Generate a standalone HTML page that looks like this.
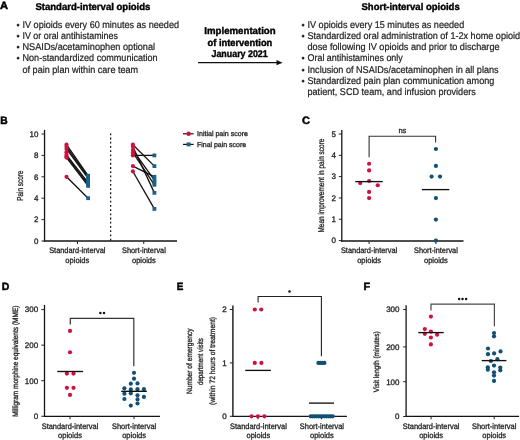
<!DOCTYPE html>
<html><head><meta charset="utf-8"><style>
html,body{margin:0;padding:0;background:#fff;width:520px;height:440px;overflow:hidden}
svg{display:block;font-family:"Liberation Sans", sans-serif;will-change:transform;text-rendering:geometricPrecision}
</style></head><body>
<svg width="520" height="440" viewBox="0 0 520 440">
<rect width="520" height="440" fill="#fff"/>
<text x="0" y="9.45" font-size="10.6" font-weight="bold" textLength="8.0" lengthAdjust="spacingAndGlyphs" fill="#000" stroke="#000" stroke-width="0.5">A</text>
<text x="35.4" y="9.85" font-size="9.8" font-weight="bold" textLength="115.0" lengthAdjust="spacingAndGlyphs" fill="#000" stroke="#000" stroke-width="0.4">Standard-interval opioids</text>
<text x="16.6" y="27.5" font-size="9" fill="#1e1e1e" stroke="#1e1e1e" stroke-width="0.22">•</text>
<text x="22.5" y="27.5" font-size="9.8" textLength="156.5" lengthAdjust="spacingAndGlyphs" fill="#1e1e1e" stroke="#1e1e1e" stroke-width="0.22">IV opioids every 60 minutes as needed</text>
<text x="16.6" y="38.77" font-size="9" fill="#1e1e1e" stroke="#1e1e1e" stroke-width="0.22">•</text>
<text x="22.5" y="38.77" font-size="9.8" textLength="95.34" lengthAdjust="spacingAndGlyphs" fill="#1e1e1e" stroke="#1e1e1e" stroke-width="0.22">IV or oral antihistamines</text>
<text x="16.6" y="50.04" font-size="9" fill="#1e1e1e" stroke="#1e1e1e" stroke-width="0.22">•</text>
<text x="22.5" y="50.04" font-size="9.8" textLength="132.59" lengthAdjust="spacingAndGlyphs" fill="#1e1e1e" stroke="#1e1e1e" stroke-width="0.22">NSAIDs/acetaminophen optional</text>
<text x="16.6" y="61.31" font-size="9" fill="#1e1e1e" stroke="#1e1e1e" stroke-width="0.22">•</text>
<text x="22.5" y="61.31" font-size="9.8" textLength="135.17" lengthAdjust="spacingAndGlyphs" fill="#1e1e1e" stroke="#1e1e1e" stroke-width="0.22">Non-standardized communication</text>
<text x="22.5" y="72.58" font-size="9.8" textLength="115.67" lengthAdjust="spacingAndGlyphs" fill="#1e1e1e" stroke="#1e1e1e" stroke-width="0.22">of pain plan within care team</text>
<text x="240" y="34.3" font-size="9.8" text-anchor="middle" font-weight="bold" textLength="71.3" lengthAdjust="spacingAndGlyphs" fill="#000" stroke="#000" stroke-width="0.4">Implementation</text>
<text x="239.9" y="45.5" font-size="9.8" text-anchor="middle" font-weight="bold" textLength="64.8" lengthAdjust="spacingAndGlyphs" fill="#000" stroke="#000" stroke-width="0.4">of intervention</text>
<text x="239.6" y="56.5" font-size="9.8" text-anchor="middle" font-weight="bold" textLength="56.2" lengthAdjust="spacingAndGlyphs" fill="#000" stroke="#000" stroke-width="0.4">January 2021</text>
<line x1="198" y1="62.6" x2="278" y2="62.6" stroke="#111" stroke-width="1.3"/>
<path d="M276.5 60.1 L282.6 62.7 L276.5 65.3 Z" fill="#111"/>
<text x="361.5" y="9.85" font-size="9.8" font-weight="bold" textLength="98.2" lengthAdjust="spacingAndGlyphs" fill="#000" stroke="#000" stroke-width="0.4">Short-interval opioids</text>
<text x="301.6" y="27.5" font-size="9" fill="#1e1e1e" stroke="#1e1e1e" stroke-width="0.22">•</text>
<text x="307.5" y="27.5" font-size="9.8" textLength="156.7" lengthAdjust="spacingAndGlyphs" fill="#1e1e1e" stroke="#1e1e1e" stroke-width="0.22">IV opioids every 15 minutes as needed</text>
<text x="301.6" y="38.77" font-size="9" fill="#1e1e1e" stroke="#1e1e1e" stroke-width="0.22">•</text>
<text x="307.5" y="38.77" font-size="9.8" textLength="212.62" lengthAdjust="spacingAndGlyphs" fill="#1e1e1e" stroke="#1e1e1e" stroke-width="0.22">Standardized oral administration of 1-2x home opioid</text>
<text x="307.5" y="50.04" font-size="9.8" textLength="192.12" lengthAdjust="spacingAndGlyphs" fill="#1e1e1e" stroke="#1e1e1e" stroke-width="0.22">dose following IV opioids and prior to discharge</text>
<text x="301.6" y="61.31" font-size="9" fill="#1e1e1e" stroke="#1e1e1e" stroke-width="0.22">•</text>
<text x="307.5" y="61.31" font-size="9.8" textLength="95.25" lengthAdjust="spacingAndGlyphs" fill="#1e1e1e" stroke="#1e1e1e" stroke-width="0.22">Oral antihistamines only</text>
<text x="301.6" y="72.58" font-size="9" fill="#1e1e1e" stroke="#1e1e1e" stroke-width="0.22">•</text>
<text x="307.5" y="72.58" font-size="9.8" textLength="191.11" lengthAdjust="spacingAndGlyphs" fill="#1e1e1e" stroke="#1e1e1e" stroke-width="0.22">Inclusion of NSAIDs/acetaminophen in all plans</text>
<text x="301.6" y="83.85" font-size="9" fill="#1e1e1e" stroke="#1e1e1e" stroke-width="0.22">•</text>
<text x="307.5" y="83.85" font-size="9.8" textLength="186.82" lengthAdjust="spacingAndGlyphs" fill="#1e1e1e" stroke="#1e1e1e" stroke-width="0.22">Standardized pain plan communication among</text>
<text x="307.5" y="95.12" font-size="9.8" textLength="168.29" lengthAdjust="spacingAndGlyphs" fill="#1e1e1e" stroke="#1e1e1e" stroke-width="0.22">patient, SCD team, and infusion providers</text>
<text x="0.2" y="123.8" font-size="10.6" font-weight="bold" textLength="7.4" lengthAdjust="spacingAndGlyphs" fill="#000" stroke="#000" stroke-width="0.5">B</text>
<line x1="44.55" y1="130" x2="44.55" y2="241.7" stroke="#141414" stroke-width="1.3"/>
<line x1="43.9" y1="240.95" x2="177" y2="240.95" stroke="#141414" stroke-width="1.5"/>
<line x1="41.5" y1="241.0" x2="44.5" y2="241.0" stroke="#222" stroke-width="1.0"/>
<text x="38.4" y="243.8" font-size="8.0" text-anchor="end" textLength="4.45" lengthAdjust="spacingAndGlyphs" fill="#1e1e1e" stroke="#1e1e1e" stroke-width="0.3">0</text>
<line x1="41.5" y1="219.6" x2="44.5" y2="219.6" stroke="#222" stroke-width="1.0"/>
<text x="38.4" y="222.4" font-size="8.0" text-anchor="end" textLength="4.45" lengthAdjust="spacingAndGlyphs" fill="#1e1e1e" stroke="#1e1e1e" stroke-width="0.3">2</text>
<line x1="41.5" y1="198.2" x2="44.5" y2="198.2" stroke="#222" stroke-width="1.0"/>
<text x="38.4" y="201.0" font-size="8.0" text-anchor="end" textLength="4.45" lengthAdjust="spacingAndGlyphs" fill="#1e1e1e" stroke="#1e1e1e" stroke-width="0.3">4</text>
<line x1="41.5" y1="176.8" x2="44.5" y2="176.8" stroke="#222" stroke-width="1.0"/>
<text x="38.4" y="179.60000000000002" font-size="8.0" text-anchor="end" textLength="4.45" lengthAdjust="spacingAndGlyphs" fill="#1e1e1e" stroke="#1e1e1e" stroke-width="0.3">6</text>
<line x1="41.5" y1="155.4" x2="44.5" y2="155.4" stroke="#222" stroke-width="1.0"/>
<text x="38.4" y="158.20000000000002" font-size="8.0" text-anchor="end" textLength="4.45" lengthAdjust="spacingAndGlyphs" fill="#1e1e1e" stroke="#1e1e1e" stroke-width="0.3">8</text>
<line x1="41.5" y1="134.0" x2="44.5" y2="134.0" stroke="#222" stroke-width="1.0"/>
<text x="38.4" y="136.8" font-size="8.0" text-anchor="end" textLength="8.9" lengthAdjust="spacingAndGlyphs" fill="#1e1e1e" stroke="#1e1e1e" stroke-width="0.3">10</text>
<line x1="77.5" y1="241" x2="77.5" y2="244" stroke="#222" stroke-width="1.0"/>
<line x1="143.75" y1="241" x2="143.75" y2="244" stroke="#222" stroke-width="1.0"/>
<line x1="110.65" y1="133.4" x2="110.65" y2="241" stroke="#111" stroke-width="1.25" stroke-dasharray="1.8 2.41"/>
<line x1="66.5" y1="144.7" x2="88.1" y2="175.73000000000002" stroke="#111" stroke-width="1.3"/>
<line x1="66.5" y1="146.84" x2="88.1" y2="176.8" stroke="#111" stroke-width="1.3"/>
<line x1="66.5" y1="148.98000000000002" x2="88.1" y2="178.405" stroke="#111" stroke-width="1.3"/>
<line x1="66.5" y1="154.865" x2="88.1" y2="182.685" stroke="#111" stroke-width="1.3"/>
<line x1="66.5" y1="156.47" x2="88.1" y2="184.29000000000002" stroke="#111" stroke-width="1.3"/>
<line x1="66.5" y1="157.54000000000002" x2="88.1" y2="185.895" stroke="#111" stroke-width="1.3"/>
<line x1="66.5" y1="176.8" x2="88.1" y2="198.2" stroke="#111" stroke-width="1.3"/>
<line x1="132.9" y1="144.7" x2="154.4" y2="166.10000000000002" stroke="#111" stroke-width="1.3"/>
<line x1="132.9" y1="146.84" x2="154.4" y2="192.85" stroke="#111" stroke-width="1.3"/>
<line x1="132.9" y1="150.05" x2="154.4" y2="180.01" stroke="#111" stroke-width="1.3"/>
<line x1="132.9" y1="152.72500000000002" x2="154.4" y2="184.825" stroke="#111" stroke-width="1.3"/>
<line x1="132.9" y1="155.4" x2="154.4" y2="155.4" stroke="#111" stroke-width="1.3"/>
<line x1="132.9" y1="166.10000000000002" x2="154.4" y2="176.8" stroke="#111" stroke-width="1.3"/>
<line x1="132.9" y1="171.45" x2="154.4" y2="208.9" stroke="#111" stroke-width="1.3"/>
<circle cx="66.5" cy="152.19" r="2.1" fill="#d0103f"/>
<rect x="86.20" y="178.65" width="3.8" height="3.8" fill="#1b6189"/>
<rect x="152.50" y="180.57" width="3.8" height="3.8" fill="#1b6189"/>
<circle cx="66.5" cy="144.7" r="2.1" fill="#d0103f"/>
<rect x="86.20" y="173.83" width="3.8" height="3.8" fill="#1b6189"/>
<circle cx="66.5" cy="146.84" r="2.1" fill="#d0103f"/>
<rect x="86.20" y="174.90" width="3.8" height="3.8" fill="#1b6189"/>
<circle cx="66.5" cy="148.98000000000002" r="2.1" fill="#d0103f"/>
<rect x="86.20" y="176.50" width="3.8" height="3.8" fill="#1b6189"/>
<circle cx="66.5" cy="154.865" r="2.1" fill="#d0103f"/>
<rect x="86.20" y="180.78" width="3.8" height="3.8" fill="#1b6189"/>
<circle cx="66.5" cy="156.47" r="2.1" fill="#d0103f"/>
<rect x="86.20" y="182.39" width="3.8" height="3.8" fill="#1b6189"/>
<circle cx="66.5" cy="157.54000000000002" r="2.1" fill="#d0103f"/>
<rect x="86.20" y="184.00" width="3.8" height="3.8" fill="#1b6189"/>
<circle cx="66.5" cy="176.8" r="2.1" fill="#d0103f"/>
<rect x="86.20" y="196.30" width="3.8" height="3.8" fill="#1b6189"/>
<circle cx="132.9" cy="144.7" r="2.1" fill="#d0103f"/>
<rect x="152.50" y="164.20" width="3.8" height="3.8" fill="#1b6189"/>
<circle cx="132.9" cy="146.84" r="2.1" fill="#d0103f"/>
<rect x="152.50" y="190.95" width="3.8" height="3.8" fill="#1b6189"/>
<circle cx="132.9" cy="150.05" r="2.1" fill="#d0103f"/>
<rect x="152.50" y="178.11" width="3.8" height="3.8" fill="#1b6189"/>
<circle cx="132.9" cy="152.72500000000002" r="2.1" fill="#d0103f"/>
<rect x="152.50" y="182.92" width="3.8" height="3.8" fill="#1b6189"/>
<circle cx="132.9" cy="155.4" r="2.1" fill="#d0103f"/>
<rect x="152.50" y="153.50" width="3.8" height="3.8" fill="#1b6189"/>
<circle cx="132.9" cy="166.10000000000002" r="2.1" fill="#d0103f"/>
<rect x="152.50" y="174.90" width="3.8" height="3.8" fill="#1b6189"/>
<circle cx="132.9" cy="171.45" r="2.1" fill="#d0103f"/>
<rect x="152.50" y="207.00" width="3.8" height="3.8" fill="#1b6189"/>
<line x1="183" y1="133.8" x2="193.6" y2="133.8" stroke="#111" stroke-width="1.2"/>
<circle cx="188.6" cy="133.8" r="2.2" fill="#d0103f"/>
<line x1="183" y1="144.4" x2="193.6" y2="144.4" stroke="#111" stroke-width="1.2"/>
<rect x="186.65" y="142.45" width="3.9" height="3.9" fill="#1b6189"/>
<text x="197" y="136.4" font-size="7.2" textLength="51" lengthAdjust="spacingAndGlyphs" fill="#1e1e1e" stroke="#1e1e1e" stroke-width="0.3">Initial pain score</text>
<text x="197" y="147.0" font-size="7.2" textLength="49.1" lengthAdjust="spacingAndGlyphs" fill="#1e1e1e" stroke="#1e1e1e" stroke-width="0.3">Final pain score</text>
<text transform="translate(23.3,185.7) rotate(-90)" x="0" y="0" font-size="8.6" text-anchor="middle" textLength="30.2" lengthAdjust="spacingAndGlyphs" fill="#1e1e1e" stroke="#1e1e1e" stroke-width="0.3">Pain score</text>
<text x="77.3" y="253.2" font-size="8.0" text-anchor="middle" textLength="56.3" lengthAdjust="spacingAndGlyphs" fill="#1e1e1e" stroke="#1e1e1e" stroke-width="0.3">Standard-interval</text>
<text x="77.3" y="262.8" font-size="8.0" text-anchor="middle" textLength="23.9" lengthAdjust="spacingAndGlyphs" fill="#1e1e1e" stroke="#1e1e1e" stroke-width="0.3">opioids</text>
<text x="143.9" y="253.2" font-size="8.0" text-anchor="middle" textLength="43.8" lengthAdjust="spacingAndGlyphs" fill="#1e1e1e" stroke="#1e1e1e" stroke-width="0.3">Short-interval</text>
<text x="143.9" y="262.8" font-size="8.0" text-anchor="middle" textLength="23.9" lengthAdjust="spacingAndGlyphs" fill="#1e1e1e" stroke="#1e1e1e" stroke-width="0.3">opioids</text>
<text x="302" y="123.8" font-size="10.6" font-weight="bold" textLength="8.0" lengthAdjust="spacingAndGlyphs" fill="#000" stroke="#000" stroke-width="0.5">C</text>
<line x1="341.8" y1="130" x2="341.8" y2="241.7" stroke="#141414" stroke-width="1.3"/>
<line x1="341.15" y1="240.95" x2="463.5" y2="240.95" stroke="#141414" stroke-width="1.5"/>
<line x1="338.8" y1="240.6" x2="341.8" y2="240.6" stroke="#222" stroke-width="1.0"/>
<text x="336.0" y="243.4" font-size="8.0" text-anchor="end" textLength="4.45" lengthAdjust="spacingAndGlyphs" fill="#1e1e1e" stroke="#1e1e1e" stroke-width="0.3">0</text>
<line x1="338.8" y1="219.28" x2="341.8" y2="219.28" stroke="#222" stroke-width="1.0"/>
<text x="336.0" y="222.08" font-size="8.0" text-anchor="end" textLength="4.45" lengthAdjust="spacingAndGlyphs" fill="#1e1e1e" stroke="#1e1e1e" stroke-width="0.3">1</text>
<line x1="338.8" y1="197.95999999999998" x2="341.8" y2="197.95999999999998" stroke="#222" stroke-width="1.0"/>
<text x="336.0" y="200.76" font-size="8.0" text-anchor="end" textLength="4.45" lengthAdjust="spacingAndGlyphs" fill="#1e1e1e" stroke="#1e1e1e" stroke-width="0.3">2</text>
<line x1="338.8" y1="176.64" x2="341.8" y2="176.64" stroke="#222" stroke-width="1.0"/>
<text x="336.0" y="179.44" font-size="8.0" text-anchor="end" textLength="4.45" lengthAdjust="spacingAndGlyphs" fill="#1e1e1e" stroke="#1e1e1e" stroke-width="0.3">3</text>
<line x1="338.8" y1="155.32" x2="341.8" y2="155.32" stroke="#222" stroke-width="1.0"/>
<text x="336.0" y="158.12" font-size="8.0" text-anchor="end" textLength="4.45" lengthAdjust="spacingAndGlyphs" fill="#1e1e1e" stroke="#1e1e1e" stroke-width="0.3">4</text>
<line x1="338.8" y1="134.0" x2="341.8" y2="134.0" stroke="#222" stroke-width="1.0"/>
<text x="336.0" y="136.8" font-size="8.0" text-anchor="end" textLength="4.45" lengthAdjust="spacingAndGlyphs" fill="#1e1e1e" stroke="#1e1e1e" stroke-width="0.3">5</text>
<line x1="369.1" y1="241" x2="369.1" y2="244" stroke="#222" stroke-width="1.0"/>
<line x1="435.9" y1="241" x2="435.9" y2="244" stroke="#222" stroke-width="1.0"/>
<path d="M369.1 157.2 V136.25 H435.6 V142.5" fill="none" stroke="#333" stroke-width="1.1"/>
<text x="402.4" y="133.4" font-size="7.6" text-anchor="middle" fill="#1e1e1e" stroke="#1e1e1e" stroke-width="0.3">ns</text>
<circle cx="369.1" cy="163.75" r="2.1" fill="#d0103f"/>
<circle cx="369.1" cy="170.4" r="2.1" fill="#d0103f"/>
<circle cx="369.1" cy="181" r="2.1" fill="#d0103f"/>
<circle cx="360.25" cy="183.1" r="2.1" fill="#d0103f"/>
<circle cx="377.75" cy="185.25" r="2.1" fill="#d0103f"/>
<circle cx="369.1" cy="191.9" r="2.1" fill="#d0103f"/>
<circle cx="369.1" cy="198.1" r="2.1" fill="#d0103f"/>
<circle cx="435.9" cy="149" r="2.1" fill="#114f74"/>
<circle cx="435.9" cy="165.9" r="2.1" fill="#114f74"/>
<circle cx="431.6" cy="176.6" r="2.1" fill="#114f74"/>
<circle cx="440" cy="176.6" r="2.1" fill="#114f74"/>
<circle cx="435.9" cy="198.1" r="2.1" fill="#114f74"/>
<circle cx="435.9" cy="219.6" r="2.1" fill="#114f74"/>
<circle cx="435.9" cy="240.6" r="2.1" fill="#114f74"/>
<line x1="355.25" y1="181.6" x2="382.75" y2="181.6" stroke="#111" stroke-width="1.35"/>
<line x1="421.9" y1="189.6" x2="449.4" y2="189.6" stroke="#111" stroke-width="1.35"/>
<text transform="translate(324.4,185.6) rotate(-90)" x="0" y="0" font-size="8.4" text-anchor="middle" textLength="94.0" lengthAdjust="spacingAndGlyphs" fill="#1e1e1e" stroke="#1e1e1e" stroke-width="0.3">Mean improvement in pain score</text>
<text x="369.1" y="253.0" font-size="8.0" text-anchor="middle" textLength="56.3" lengthAdjust="spacingAndGlyphs" fill="#1e1e1e" stroke="#1e1e1e" stroke-width="0.3">Standard-interval</text>
<text x="369.1" y="262.5" font-size="8.0" text-anchor="middle" textLength="23.9" lengthAdjust="spacingAndGlyphs" fill="#1e1e1e" stroke="#1e1e1e" stroke-width="0.3">opioids</text>
<text x="435.9" y="253.0" font-size="8.0" text-anchor="middle" textLength="43.8" lengthAdjust="spacingAndGlyphs" fill="#1e1e1e" stroke="#1e1e1e" stroke-width="0.3">Short-interval</text>
<text x="435.9" y="262.5" font-size="8.0" text-anchor="middle" textLength="23.9" lengthAdjust="spacingAndGlyphs" fill="#1e1e1e" stroke="#1e1e1e" stroke-width="0.3">opioids</text>
<text x="1.8" y="290.2" font-size="10.6" font-weight="bold" textLength="7.6" lengthAdjust="spacingAndGlyphs" fill="#000" stroke="#000" stroke-width="0.5">D</text>
<line x1="44.5" y1="305" x2="44.5" y2="417.0" stroke="#141414" stroke-width="1.3"/>
<line x1="43.85" y1="416.45" x2="160" y2="416.45" stroke="#141414" stroke-width="1.25"/>
<line x1="41.3" y1="416.25" x2="44.4" y2="416.25" stroke="#222" stroke-width="1.0"/>
<text x="38.2" y="419.05" font-size="8.0" text-anchor="end" textLength="4.45" lengthAdjust="spacingAndGlyphs" fill="#1e1e1e" stroke="#1e1e1e" stroke-width="0.3">0</text>
<line x1="41.3" y1="380.7" x2="44.4" y2="380.7" stroke="#222" stroke-width="1.0"/>
<text x="38.2" y="383.5" font-size="8.0" text-anchor="end" textLength="13.35" lengthAdjust="spacingAndGlyphs" fill="#1e1e1e" stroke="#1e1e1e" stroke-width="0.3">100</text>
<line x1="41.3" y1="345.15" x2="44.4" y2="345.15" stroke="#222" stroke-width="1.0"/>
<text x="38.2" y="347.95" font-size="8.0" text-anchor="end" textLength="13.35" lengthAdjust="spacingAndGlyphs" fill="#1e1e1e" stroke="#1e1e1e" stroke-width="0.3">200</text>
<line x1="41.3" y1="309.6" x2="44.4" y2="309.6" stroke="#222" stroke-width="1.0"/>
<text x="38.2" y="312.40000000000003" font-size="8.0" text-anchor="end" textLength="13.35" lengthAdjust="spacingAndGlyphs" fill="#1e1e1e" stroke="#1e1e1e" stroke-width="0.3">300</text>
<line x1="70" y1="416.25" x2="70" y2="419.25" stroke="#222" stroke-width="1.0"/>
<line x1="134" y1="416.25" x2="134" y2="419.25" stroke="#222" stroke-width="1.0"/>
<path d="M70.3 324.6 V318.3 H133.8 V366.3" fill="none" stroke="#333" stroke-width="1.2"/>
<circle cx="100.35" cy="313.0" r="1.25" fill="#111"/>
<circle cx="104.0" cy="313.0" r="1.25" fill="#111"/>
<circle cx="70" cy="330.93" r="2.1" fill="#d0103f"/>
<circle cx="70" cy="352.26" r="2.1" fill="#d0103f"/>
<circle cx="66.9" cy="373.59000000000003" r="2.1" fill="#d0103f"/>
<circle cx="73.5" cy="373.59000000000003" r="2.1" fill="#d0103f"/>
<circle cx="66.9" cy="387.81" r="2.1" fill="#d0103f"/>
<circle cx="73.5" cy="387.81" r="2.1" fill="#d0103f"/>
<circle cx="70" cy="394.92" r="2.1" fill="#d0103f"/>
<circle cx="134.0" cy="372.8" r="2.1" fill="#114f74"/>
<circle cx="134.0" cy="378.7" r="2.1" fill="#114f74"/>
<circle cx="130.8" cy="383.7" r="2.1" fill="#114f74"/>
<circle cx="137.5" cy="383.4" r="2.1" fill="#114f74"/>
<circle cx="124.4" cy="388.3" r="2.1" fill="#114f74"/>
<circle cx="130.8" cy="389.4" r="2.1" fill="#114f74"/>
<circle cx="137.5" cy="389.2" r="2.1" fill="#114f74"/>
<circle cx="143.9" cy="389.2" r="2.1" fill="#114f74"/>
<circle cx="124.4" cy="393.7" r="2.1" fill="#114f74"/>
<circle cx="130.8" cy="393.3" r="2.1" fill="#114f74"/>
<circle cx="137.5" cy="395.3" r="2.1" fill="#114f74"/>
<circle cx="143.9" cy="396.9" r="2.1" fill="#114f74"/>
<circle cx="124.4" cy="399.0" r="2.1" fill="#114f74"/>
<circle cx="137.5" cy="399.4" r="2.1" fill="#114f74"/>
<circle cx="137.5" cy="403.5" r="2.1" fill="#114f74"/>
<circle cx="130.8" cy="405.6" r="2.1" fill="#114f74"/>
<line x1="57.25" y1="371.5" x2="83.1" y2="371.5" stroke="#111" stroke-width="1.35"/>
<line x1="121.2" y1="391.3" x2="146.9" y2="391.3" stroke="#111" stroke-width="1.35"/>
<text transform="translate(18.0,361.2) rotate(-90)" x="0" y="0" font-size="7.8" text-anchor="middle" textLength="111.3" lengthAdjust="spacingAndGlyphs" fill="#1e1e1e" stroke="#1e1e1e" stroke-width="0.3">Milligram morphine equivalents (MME)</text>
<text x="70" y="428.5" font-size="8.0" text-anchor="middle" textLength="56.6" lengthAdjust="spacingAndGlyphs" fill="#1e1e1e" stroke="#1e1e1e" stroke-width="0.3">Standard-interval</text>
<text x="70" y="437.5" font-size="8.0" text-anchor="middle" textLength="23.9" lengthAdjust="spacingAndGlyphs" fill="#1e1e1e" stroke="#1e1e1e" stroke-width="0.3">opioids</text>
<text x="134.1" y="428.5" font-size="8.0" text-anchor="middle" textLength="44.2" lengthAdjust="spacingAndGlyphs" fill="#1e1e1e" stroke="#1e1e1e" stroke-width="0.3">Short-interval</text>
<text x="134.1" y="437.5" font-size="8.0" text-anchor="middle" textLength="23.9" lengthAdjust="spacingAndGlyphs" fill="#1e1e1e" stroke="#1e1e1e" stroke-width="0.3">opioids</text>
<text x="176.8" y="290.1" font-size="10.6" font-weight="bold" textLength="6.6" lengthAdjust="spacingAndGlyphs" fill="#000" stroke="#000" stroke-width="0.5">E</text>
<line x1="232.9" y1="305.4" x2="232.9" y2="417.0" stroke="#141414" stroke-width="1.4"/>
<line x1="232.2" y1="416.35" x2="346.9" y2="416.35" stroke="#141414" stroke-width="1.3"/>
<line x1="229.8" y1="416.3" x2="232.8" y2="416.3" stroke="#222" stroke-width="1.0"/>
<text x="226.7" y="419.1" font-size="8.0" text-anchor="end" textLength="4.45" lengthAdjust="spacingAndGlyphs" fill="#1e1e1e" stroke="#1e1e1e" stroke-width="0.3">0</text>
<line x1="229.8" y1="362.90000000000003" x2="232.8" y2="362.90000000000003" stroke="#222" stroke-width="1.0"/>
<text x="226.7" y="365.70000000000005" font-size="8.0" text-anchor="end" textLength="4.45" lengthAdjust="spacingAndGlyphs" fill="#1e1e1e" stroke="#1e1e1e" stroke-width="0.3">1</text>
<line x1="229.8" y1="309.5" x2="232.8" y2="309.5" stroke="#222" stroke-width="1.0"/>
<text x="226.7" y="312.3" font-size="8.0" text-anchor="end" textLength="4.45" lengthAdjust="spacingAndGlyphs" fill="#1e1e1e" stroke="#1e1e1e" stroke-width="0.3">2</text>
<line x1="258.0" y1="416.25" x2="258.0" y2="419.25" stroke="#222" stroke-width="1.0"/>
<line x1="321.5" y1="416.25" x2="321.5" y2="419.25" stroke="#222" stroke-width="1.0"/>
<path d="M258.1 302.5 V296.5 H321.4 V356.3" fill="none" stroke="#222" stroke-width="1.1"/>
<circle cx="289.5" cy="291.4" r="1.25" fill="#111"/>
<circle cx="254.75" cy="309.5" r="2.1" fill="#d0103f"/>
<circle cx="261.25" cy="309.5" r="2.1" fill="#d0103f"/>
<circle cx="254.75" cy="362.90000000000003" r="2.1" fill="#d0103f"/>
<circle cx="261.4" cy="362.90000000000003" r="2.1" fill="#d0103f"/>
<circle cx="251.5" cy="416.3" r="2.1" fill="#d0103f"/>
<circle cx="257.9" cy="416.3" r="2.1" fill="#d0103f"/>
<circle cx="264.4" cy="416.3" r="2.1" fill="#d0103f"/>
<circle cx="318.4" cy="362.90000000000003" r="2.1" fill="#114f74"/>
<circle cx="320.4" cy="362.90000000000003" r="2.1" fill="#114f74"/>
<circle cx="322.4" cy="362.90000000000003" r="2.1" fill="#114f74"/>
<circle cx="324.4" cy="362.90000000000003" r="2.1" fill="#114f74"/>
<circle cx="310.7" cy="416.3" r="2.1" fill="#114f74"/>
<circle cx="312.7" cy="416.3" r="2.1" fill="#114f74"/>
<circle cx="314.7" cy="416.3" r="2.1" fill="#114f74"/>
<circle cx="316.7" cy="416.3" r="2.1" fill="#114f74"/>
<circle cx="318.7" cy="416.3" r="2.1" fill="#114f74"/>
<circle cx="320.7" cy="416.3" r="2.1" fill="#114f74"/>
<circle cx="322.7" cy="416.3" r="2.1" fill="#114f74"/>
<circle cx="324.7" cy="416.3" r="2.1" fill="#114f74"/>
<circle cx="326.7" cy="416.3" r="2.1" fill="#114f74"/>
<circle cx="328.7" cy="416.3" r="2.1" fill="#114f74"/>
<circle cx="330.7" cy="416.3" r="2.1" fill="#114f74"/>
<circle cx="332.7" cy="416.3" r="2.1" fill="#114f74"/>
<line x1="245.25" y1="370.4" x2="270.9" y2="370.4" stroke="#111" stroke-width="1.35"/>
<line x1="309.0" y1="403.1" x2="334.0" y2="403.1" stroke="#111" stroke-width="1.35"/>
<text transform="translate(192.2,361.3) rotate(-90)" x="0" y="0" font-size="7.8" text-anchor="middle" textLength="65.5" lengthAdjust="spacingAndGlyphs" fill="#1e1e1e" stroke="#1e1e1e" stroke-width="0.3">Number of emergency</text>
<text transform="translate(203.2,361.6) rotate(-90)" x="0" y="0" font-size="7.8" text-anchor="middle" textLength="46.9" lengthAdjust="spacingAndGlyphs" fill="#1e1e1e" stroke="#1e1e1e" stroke-width="0.3">department visits</text>
<text transform="translate(214.5,361.0) rotate(-90)" x="0" y="0" font-size="7.8" text-anchor="middle" textLength="88.1" lengthAdjust="spacingAndGlyphs" fill="#1e1e1e" stroke="#1e1e1e" stroke-width="0.3">(within 72 hours of treatment)</text>
<text x="258.4" y="429.1" font-size="8.0" text-anchor="middle" textLength="56.9" lengthAdjust="spacingAndGlyphs" fill="#1e1e1e" stroke="#1e1e1e" stroke-width="0.3">Standard-interval</text>
<text x="258.4" y="437.8" font-size="8.0" text-anchor="middle" textLength="23.9" lengthAdjust="spacingAndGlyphs" fill="#1e1e1e" stroke="#1e1e1e" stroke-width="0.3">opioids</text>
<text x="321.9" y="429.1" font-size="8.0" text-anchor="middle" textLength="44.2" lengthAdjust="spacingAndGlyphs" fill="#1e1e1e" stroke="#1e1e1e" stroke-width="0.3">Short-interval</text>
<text x="321.9" y="437.8" font-size="8.0" text-anchor="middle" textLength="23.9" lengthAdjust="spacingAndGlyphs" fill="#1e1e1e" stroke="#1e1e1e" stroke-width="0.3">opioids</text>
<text x="363.4" y="290.1" font-size="10.6" font-weight="bold" textLength="6.6" lengthAdjust="spacingAndGlyphs" fill="#000" stroke="#000" stroke-width="0.5">F</text>
<line x1="406.1" y1="305.2" x2="406.1" y2="417.0" stroke="#141414" stroke-width="1.3"/>
<line x1="405.45" y1="416.4" x2="519.1" y2="416.4" stroke="#141414" stroke-width="1.3"/>
<line x1="403.2" y1="416.5" x2="406.25" y2="416.5" stroke="#222" stroke-width="1.0"/>
<text x="399.5" y="419.3" font-size="8.0" text-anchor="end" textLength="4.45" lengthAdjust="spacingAndGlyphs" fill="#1e1e1e" stroke="#1e1e1e" stroke-width="0.3">0</text>
<line x1="403.2" y1="381.7" x2="406.25" y2="381.7" stroke="#222" stroke-width="1.0"/>
<text x="399.5" y="384.5" font-size="8.0" text-anchor="end" textLength="13.35" lengthAdjust="spacingAndGlyphs" fill="#1e1e1e" stroke="#1e1e1e" stroke-width="0.3">100</text>
<line x1="403.2" y1="346.9" x2="406.25" y2="346.9" stroke="#222" stroke-width="1.0"/>
<text x="399.5" y="349.7" font-size="8.0" text-anchor="end" textLength="13.35" lengthAdjust="spacingAndGlyphs" fill="#1e1e1e" stroke="#1e1e1e" stroke-width="0.3">200</text>
<line x1="403.2" y1="309.5" x2="406.25" y2="309.5" stroke="#222" stroke-width="1.0"/>
<text x="399.5" y="312.3" font-size="8.0" text-anchor="end" textLength="13.35" lengthAdjust="spacingAndGlyphs" fill="#1e1e1e" stroke="#1e1e1e" stroke-width="0.3">300</text>
<line x1="431.1" y1="416.3" x2="431.1" y2="419.3" stroke="#222" stroke-width="1.0"/>
<line x1="494.2" y1="416.3" x2="494.2" y2="419.3" stroke="#222" stroke-width="1.0"/>
<path d="M431 310.6 V304.1 H494.4 V326.3" fill="none" stroke="#4a4a4a" stroke-width="1.2"/>
<circle cx="459.1" cy="299.0" r="1.25" fill="#111"/>
<circle cx="462.5" cy="299.0" r="1.25" fill="#111"/>
<circle cx="466.1" cy="299.0" r="1.25" fill="#111"/>
<circle cx="430.9" cy="316.6" r="2.1" fill="#d0103f"/>
<circle cx="424.8" cy="329.1" r="2.1" fill="#d0103f"/>
<circle cx="430.9" cy="331.6" r="2.1" fill="#d0103f"/>
<circle cx="424.8" cy="333.8" r="2.1" fill="#d0103f"/>
<circle cx="437.1" cy="334.7" r="2.1" fill="#d0103f"/>
<circle cx="430.9" cy="337.5" r="2.1" fill="#d0103f"/>
<circle cx="430.9" cy="344.4" r="2.1" fill="#d0103f"/>
<circle cx="494" cy="333.0" r="2.1" fill="#114f74"/>
<circle cx="494" cy="336.3" r="2.1" fill="#114f74"/>
<circle cx="488" cy="348.5" r="2.1" fill="#114f74"/>
<circle cx="500.5" cy="351.4" r="2.1" fill="#114f74"/>
<circle cx="494.1" cy="353.4" r="2.1" fill="#114f74"/>
<circle cx="488" cy="354.2" r="2.1" fill="#114f74"/>
<circle cx="497.4" cy="359.2" r="2.1" fill="#114f74"/>
<circle cx="490.9" cy="361" r="2.1" fill="#114f74"/>
<circle cx="494" cy="365.6" r="2.1" fill="#114f74"/>
<circle cx="487.8" cy="367.3" r="2.1" fill="#114f74"/>
<circle cx="487.8" cy="369.7" r="2.1" fill="#114f74"/>
<circle cx="500.3" cy="367.6" r="2.1" fill="#114f74"/>
<circle cx="500.3" cy="370.3" r="2.1" fill="#114f74"/>
<circle cx="494" cy="372.3" r="2.1" fill="#114f74"/>
<circle cx="494" cy="375.6" r="2.1" fill="#114f74"/>
<circle cx="494" cy="380.9" r="2.1" fill="#114f74"/>
<line x1="418.3" y1="332.6" x2="443.7" y2="332.6" stroke="#111" stroke-width="1.35"/>
<line x1="481.7" y1="360.6" x2="506.4" y2="360.6" stroke="#111" stroke-width="1.35"/>
<text transform="translate(379.0,361.8) rotate(-90)" x="0" y="0" font-size="7.8" text-anchor="middle" textLength="60.9" lengthAdjust="spacingAndGlyphs" fill="#1e1e1e" stroke="#1e1e1e" stroke-width="0.3">Visit length (minutes)</text>
<text x="431.1" y="428.5" font-size="8.0" text-anchor="middle" textLength="56.7" lengthAdjust="spacingAndGlyphs" fill="#1e1e1e" stroke="#1e1e1e" stroke-width="0.3">Standard-interval</text>
<text x="431.1" y="437.9" font-size="8.0" text-anchor="middle" textLength="23.9" lengthAdjust="spacingAndGlyphs" fill="#1e1e1e" stroke="#1e1e1e" stroke-width="0.3">opioids</text>
<text x="494.2" y="428.5" font-size="8.0" text-anchor="middle" textLength="44.5" lengthAdjust="spacingAndGlyphs" fill="#1e1e1e" stroke="#1e1e1e" stroke-width="0.3">Short-interval</text>
<text x="494.2" y="437.9" font-size="8.0" text-anchor="middle" textLength="23.9" lengthAdjust="spacingAndGlyphs" fill="#1e1e1e" stroke="#1e1e1e" stroke-width="0.3">opioids</text>
</svg>
</body></html>
